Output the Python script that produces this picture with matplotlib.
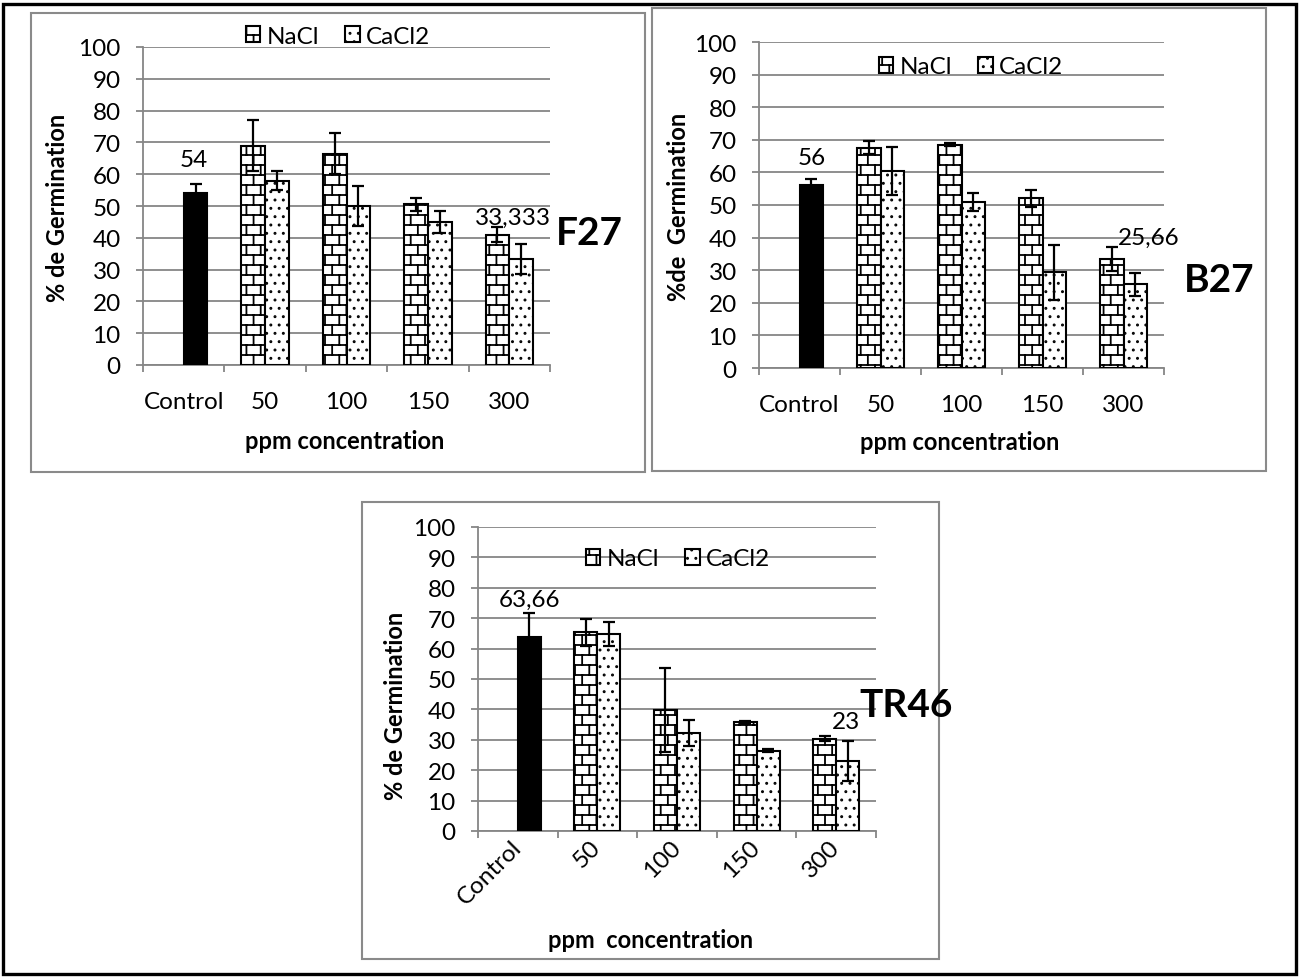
import numpy as np
import matplotlib
matplotlib.use('Agg')
import matplotlib.pyplot as plt
import matplotlib.hatch as mhatch
from matplotlib.path import Path
from matplotlib.patches import Rectangle

# ---------------- data ----------------
categories = ['Control', '50', '100', '150', '300']
series_names = ['NaCl', 'CaCl2']

f27_control = 54
f27_control_err = 3
f27_nacl = [69, 66.5, 50.5, 41]
f27_nacl_err = [8, 6.5, 2, 2.4]
f27_cacl2 = [58, 50, 45, 33.333]
f27_cacl2_err = [3, 6.3, 3.5, 4.8]

b27_control = 56
b27_control_err = 2
b27_nacl = [67.6, 68.5, 52, 33.5]
b27_nacl_err = [2, 0.5, 2.6, 3.7]
b27_cacl2 = [60.5, 51, 29.4, 25.66]
b27_cacl2_err = [7.3, 2.7, 8.4, 3.5]

tr46_control = 63.66
tr46_control_err = 8
tr46_nacl = [65.3, 39.8, 35.7, 30.4]
tr46_nacl_err = [4.5, 13.7, 0.6, 0.8]
tr46_cacl2 = [64.7, 32.3, 26.4, 23]
tr46_cacl2_err = [4, 4.2, 0.5, 6.7]

# ---------------- custom hatches ----------------
class BrickHatch(mhatch.HatchPatternBase):
    """Brick wall pattern, used for the '*' hatch character."""
    rows = 10
    bricks = 7

    def __init__(self, hatch, density):
        self.segs = []
        if hatch.count('*'):
            r, b = self.rows, self.bricks
            for i in range(r):
                y = (i + 0.5) / r
                self.segs.append(((0.0, y), (1.0, y)))
            for i in range(r):
                y0 = (i + 0.5) / r
                y1 = (i + 1.5) / r
                off = 0.5 * (i % 2)
                for j in range(b):
                    x = (j + off + 0.25) / b
                    if y1 <= 1.0:
                        self.segs.append(((x, y0), (x, y1)))
                    else:
                        self.segs.append(((x, y0), (x, 1.0)))
                        self.segs.append(((x, 0.0), (x, y1 - 1.0)))
        self.num_vertices = 2 * len(self.segs)

    def set_vertices_and_codes(self, vertices, codes):
        v = np.array(self.segs, dtype=float).reshape(-1, 2)
        vertices[:] = v
        codes[0::2] = Path.MOVETO
        codes[1::2] = Path.LINETO


class TinyDots(mhatch.Circles):
    """Small sparse filled dots, used for the 'o' hatch character."""
    size = 0.07
    filled = True

    def __init__(self, hatch, density):
        self.num_rows = hatch.count('o') * 12
        super().__init__(hatch, density)


mhatch._hatch_types = [t for t in mhatch._hatch_types
                       if t not in (mhatch.Stars, mhatch.SmallCircles)] + [BrickHatch, TinyDots]

plt.rcParams['font.family'] = ['Lato', 'DejaVu Sans']
plt.rcParams['hatch.linewidth'] = 1.3

DPI = 100
W, H = 1299, 978
fig = plt.figure(figsize=(W / DPI, H / DPI), dpi=DPI)


def fx(px):
    return px / W


def fy(py):
    return 1 - py / H


def add_box(x0, y0, x1, y1, color, lw):
    fig.patches.append(Rectangle((fx(x0), fy(y1)), fx(x1) - fx(x0), fy(y0) - fy(y1),
                                 transform=fig.transFigure, fill=False,
                                 edgecolor=color, linewidth=lw, zorder=0))


GRAY = '#868686'
PT = 72.0 / DPI

# outer border and chart frames
add_box(3, 5, 1296, 975, 'black', 2.4)
add_box(31, 14, 645, 473, '#8a8a8a', 1.5)
add_box(652, 9, 1266, 472, '#8a8a8a', 1.5)
add_box(362, 503, 939, 960, '#8a8a8a', 1.5)


def draw_panel(rect, control, control_err, nacl, nacl_err, cacl2, cacl2_err,
               ylabel, ylabel_pos, xlabel, xlabel_pos, legend_pos,
               labels, name, name_pos, rotate=False):
    x0, ytop, x1, ybot = rect
    ax = fig.add_axes([fx(x0), fy(ybot), fx(x1) - fx(x0), fy(ytop) - fy(ybot)])
    idx = np.arange(len(categories))
    w = 0.29
    ek = dict(ecolor='black', elinewidth=1.6, capsize=4.5, capthick=1.6, zorder=5)
    ax.bar(idx[0] + w / 2, control, w, yerr=control_err, color='black',
           edgecolor='black', linewidth=1.5, error_kw=ek, zorder=3)
    ax.bar(idx[1:] - w / 2, nacl, w, yerr=nacl_err, color='white', edgecolor='black',
           hatch='*', linewidth=1.5, error_kw=ek, zorder=3, label=series_names[0])
    ax.bar(idx[1:] + w / 2, cacl2, w, yerr=cacl2_err, color='white', edgecolor='black',
           hatch='o', linewidth=1.5, error_kw=ek, zorder=3, label=series_names[1])

    ax.set_xlim(-0.5, len(categories) - 0.5)
    ax.set_ylim(0, 100)
    ax.set_yticks(np.arange(0, 101, 10))
    ax.yaxis.grid(True, color=GRAY, linewidth=1.3)
    ax.set_axisbelow(True)
    for s in ['top', 'right']:
        ax.spines[s].set_visible(False)
    for s in ['left', 'bottom']:
        ax.spines[s].set_color(GRAY)
        ax.spines[s].set_linewidth(1.3)

    ax.set_xticks(np.arange(len(categories) + 1) - 0.5)
    ax.set_xticklabels([])
    ax.set_xticks(idx, minor=True)
    if rotate:
        ax.set_xticklabels(categories, minor=True, rotation=45, ha='right',
                           va='center', rotation_mode='anchor')
        ax.tick_params(axis='x', which='minor', length=0, pad=9, labelsize=17.5)
    else:
        ax.set_xticklabels(categories, minor=True)
        ax.tick_params(axis='x', which='minor', length=0, pad=19, labelsize=17.5)
    ax.tick_params(axis='x', which='major', length=5, width=1.3, color=GRAY)
    ax.tick_params(axis='y', which='major', length=5, width=1.3, color=GRAY,
                   pad=11, labelsize=17.5)

    ax.set_ylabel(ylabel, fontsize=17, fontweight='bold')
    ax.yaxis.set_label_coords(fx(ylabel_pos[0]), fy(ylabel_pos[1]), transform=fig.transFigure)
    ax.set_xlabel(xlabel, fontsize=17, fontweight='bold')
    ax.xaxis.set_label_coords(fx(xlabel_pos[0]), fy(xlabel_pos[1]), transform=fig.transFigure)

    ax.legend(loc='center', bbox_to_anchor=(fx(legend_pos[0]), fy(legend_pos[1])),
              bbox_transform=fig.transFigure, ncol=2, frameon=False, fontsize=17.5,
              handlelength=0.6, handleheight=0.6, handletextpad=0.25,
              columnspacing=1.1, borderpad=0, borderaxespad=0)

    # data labels
    for (which, text, dx, dy) in labels:
        if which == 'control':
            xv, yv = idx[0] + w / 2, control
        else:
            xv, yv = idx[len(categories) - 1] + w / 2, cacl2[-1]
        ax.annotate(text, (xv, yv), xytext=(dx * PT, dy * PT), textcoords='offset points',
                    ha='center', va='center', fontsize=17.5, zorder=6)

    fig.text(fx(name_pos[0]), fy(name_pos[1]), name, fontsize=28, fontweight='bold',
             ha='center', va='center')
    return ax


draw_panel((143, 48, 550, 366), f27_control, f27_control_err, f27_nacl, f27_nacl_err,
           f27_cacl2, f27_cacl2_err,
           '% de Germination', (69, 208), 'ppm concentration', (345, 430), (338, 37),
           [('control', '54', -2, 34), ('last', '33,333', -8, 42)], 'F27', (589, 234))

draw_panel((759, 43, 1164, 369), b27_control, b27_control_err, b27_nacl, b27_nacl_err,
           b27_cacl2, b27_cacl2_err,
           '%de  Germination', (690, 207), 'ppm concentration', (960, 431), (971, 68),
           [('control', '56', 0, 28), ('last', '25,66', 13, 47)], 'B27', (1219, 280))

draw_panel((478, 528, 876, 832), tr46_control, tr46_control_err, tr46_nacl, tr46_nacl_err,
           tr46_cacl2, tr46_cacl2_err,
           '% de Germination', (407, 706), 'ppm  concentration', (651, 929), (678, 560),
           [('control', '63,66', 0, 38), ('last', '23', -2, 40)], 'TR46', (906, 706),
           rotate=True)

fig.savefig('out.png', dpi=DPI)
